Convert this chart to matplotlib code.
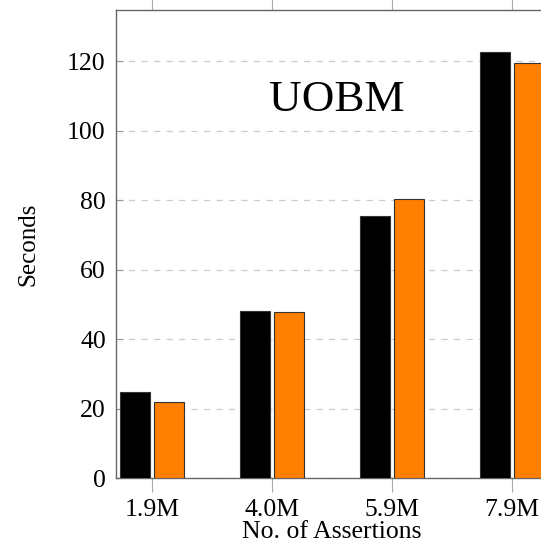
import numpy as np
import matplotlib
matplotlib.use("Agg")
import matplotlib.pyplot as plt

categories = ["1.9M", "4.0M", "5.9M", "7.9M"]
series_a = [24.7, 48.1, 75.4, 122.6]   # black bars
series_b = [21.8, 47.9, 80.3, 119.5]   # orange bars

plt.rcParams["font.family"] = ["Liberation Serif", "DejaVu Serif"]

fig = plt.figure(figsize=(5.41, 5.49), dpi=100)
ax = fig.add_axes([0.2135, 0.1293, 0.8004, 0.8525])

x = np.arange(len(categories))
w = 0.25
off = 0.145
ax.bar(x - off, series_a, w, color="black", edgecolor="#333333", linewidth=0.8, zorder=3)
ax.bar(x + off, series_b, w, color="#ff7f00", edgecolor="#333333", linewidth=0.8, zorder=3)

ax.set_xlim(-0.304, 3.304)
ax.set_ylim(0, 134.7)
ax.set_xticks(x)
ax.set_xticklabels(categories)
ax.set_yticks(range(0, 121, 20))

ax.grid(axis="y", linestyle=(0, (5, 5)), color="#cccccc", linewidth=0.9, zorder=0)
for s in ax.spines.values():
    s.set_color("#666666")
    s.set_linewidth(1.0)

ax.tick_params(axis="x", direction="out", length=10, color="#aaaaaa", width=0.8,
               labelsize=18.5, top=True, pad=5)
ax.tick_params(axis="y", direction="in", length=5, color="#999999", width=0.8,
               labelsize=18.5, pad=7)

ax.set_ylabel("Seconds", fontsize=18, labelpad=20)
ax.set_xlabel("No. of Assertions", fontsize=18.5, labelpad=0)

ax.text(0.511, 0.807, "UOBM", transform=ax.transAxes, fontsize=32.5,
        ha="center", va="center")

fig.savefig("out.png", dpi=100)
